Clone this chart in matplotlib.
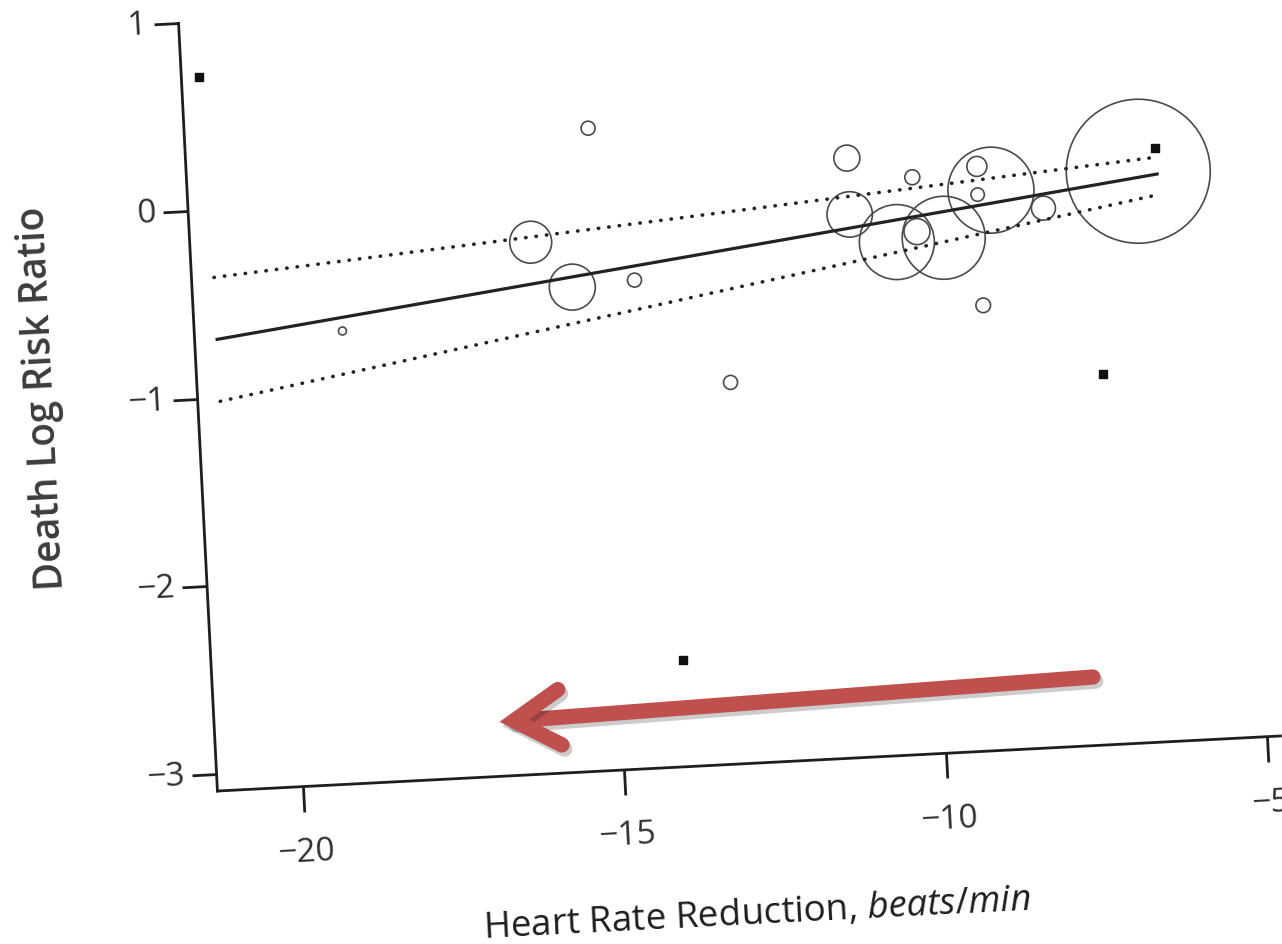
import numpy as np
import matplotlib
matplotlib.use("Agg")
import matplotlib.pyplot as plt
import matplotlib.patheffects as pe
from matplotlib.transforms import Affine2D
import mpl_toolkits.axisartist.floating_axes as floating_axes
from mpl_toolkits.axisartist.grid_finder import FixedLocator, DictFormatter

W, H, DPI = 1282, 945, 100

# trials drawn as open bubbles: heart rate reduction, death log RR, bubble radius (px)
trial_hr = [-15.06, -11.07, -10.07, -9.06, -16.04, -15.43, -14.46, -19.03, -13.05,
            -11.07, -10.36, -10.04, -9.63, -8.86, -9.07, -8.06, -6.56, -9.07]
trial_lrr = [0.33, 0.10, -0.02, 0.02, -0.26, -0.51, -0.49, -0.68, -1.06,
             -0.20, -0.36, -0.31, -0.35, -0.11, -0.13, -0.22, -0.05, -0.72]
trial_radius = [7, 13, 7.5, 10, 21, 23, 7, 4, 7, 22.7, 37.5, 13, 41.5, 43, 6.7, 12, 72, 7.3]

# trials drawn as small filled squares
square_hr = [-21.05, -6.28, -7.26, -14.01]
square_lrr = [0.71, 0.07, -1.12, -2.52]

# meta-regression line and its confidence band
fit_hr = [-20.98, -6.27]
fit_lrr = [-0.69, -0.07]
ci_upper = [-0.36, 0.02]
ci_lower = [-1.02, -0.18]

arrow_tail = (-7.66, -2.725)
arrow_head = (-16.90, -2.80)

x_ticks = [-20, -15, -10, -5]
x_ticklabels = ["\u221220", "\u221215", "\u221210", "\u22125"]
y_ticks = [-3, -2, -1, 0, 1]
y_ticklabels = ["\u22123", "\u22122", "\u22121", "0", "1"]
x_range = (-21.33, -4.8)
y_range = (-3.09, 1.0)

plt.rcParams["font.family"] = ["Open Sans", "DejaVu Sans"]
plt.rcParams["mathtext.fontset"] = "custom"
plt.rcParams["mathtext.rm"] = "Open Sans"
plt.rcParams["mathtext.it"] = "Open Sans:italic"

# the printed page was photographed a little rotated: data -> figure pixels
tilt_deg = 2.9
tilt = Affine2D(np.array([[64.3, -9.5, 1559.6],
                          [3.33, 187.7, 804.0],
                          [0.0, 0.0, 1.0]]))

grid_helper = floating_axes.GridHelperCurveLinear(
    tilt,
    extremes=(x_range[0], x_range[1], y_range[0], y_range[1]),
    grid_locator1=FixedLocator(x_ticks),
    grid_locator2=FixedLocator(y_ticks),
    tick_formatter1=DictFormatter(dict(zip(x_ticks, x_ticklabels))),
    tick_formatter2=DictFormatter(dict(zip(y_ticks, y_ticklabels))),
)

fig = plt.figure(figsize=(W / DPI, H / DPI), dpi=DPI)
ax = fig.add_axes([0, 0, 1, 1], axes_class=floating_axes.FloatingAxes,
                  grid_helper=grid_helper)
ax.set_xlim(0, W)
ax.set_ylim(0, H)

for side in ("top", "right"):
    ax.axis[side].set_visible(False)
for side in ("left", "bottom"):
    axis = ax.axis[side]
    axis.line.set_linewidth(2.0)
    axis.line.set_color("#1e1e1e")
    axis.major_ticks.set_tick_out(True)
    axis.major_ticks.set_ticksize(18)
    axis.major_ticks.set_markeredgewidth(2.0)
    axis.major_ticks.set_color("#1e1e1e")
    axis.major_ticklabels.set_fontsize(24)
    axis.major_ticklabels.set_color("#303030")
ax.axis["left"].major_ticklabels.set_pad(5)
ax.axis["bottom"].major_ticklabels.set_pad(18)

ax.axis["bottom"].label.set_text("Heart Rate Reduction, $\\mathit{beats/min}$")
ax.axis["bottom"].label.set_fontsize(26.5)
ax.axis["bottom"].label.set_color("#1e1e1e")
ax.axis["bottom"].label.set_pad(42)

# y label sits a bit above the middle of the tilted axis in the photo
fig.text(0.034, 0.578, "Death Log Risk Ratio", rotation=90 + tilt_deg,
         rotation_mode="anchor", ha="center", va="center", fontsize=28,
         fontweight="semibold", color="#3c3c3c")

aux = ax.get_aux_axes(tilt)
sizes = [(2 * r * 72 / DPI) ** 2 for r in trial_radius]
aux.scatter(trial_hr, trial_lrr, s=sizes, facecolors="none", edgecolors="#4a4a4a",
            linewidths=1.2, zorder=3)
aux.scatter(square_hr, square_lrr, marker="s", s=30, color="#111111", zorder=4)
aux.plot(fit_hr, fit_lrr, color="#222222", lw=2.3, zorder=5)
for band in (ci_upper, ci_lower):
    aux.plot(fit_hr, band, color="#222222", lw=2.6, linestyle=(0, (0.1, 2.8)),
             dash_capstyle="round", zorder=5)

aux.annotate("", xy=arrow_head, xytext=arrow_tail, annotation_clip=False,
             arrowprops=dict(arrowstyle="->,head_length=0.33,head_width=0.2",
                             mutation_scale=100, lw=11, color="#c0504d",
                             shrinkA=0, shrinkB=0, capstyle="round",
                             joinstyle="miter",
                             path_effects=[pe.SimpleLineShadow(offset=(2, -3), alpha=0.2,
                                                               shadow_color="#000000"),
                                           pe.Normal()]),
             zorder=6)

fig.savefig("out.png", dpi=DPI)
